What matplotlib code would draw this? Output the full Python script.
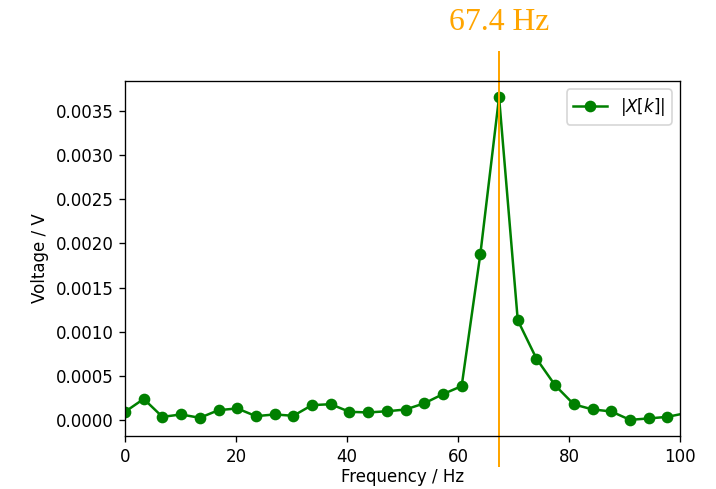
import matplotlib

matplotlib.use("Agg")
import matplotlib.pyplot as plt
import matplotlib.transforms as mtransforms
import numpy as np

# 스펙트럼 데이터 (bin 간격 3.37 Hz)
df = 3.37
magnitude = [
    0.000094, 0.00024, 0.000037, 0.000064, 0.000026, 0.000113, 0.000132,
    0.000045, 0.000064, 0.000049, 0.00017, 0.00018, 0.000094, 0.000087,
    0.0001, 0.00012, 0.00019, 0.000294, 0.000385, 0.00188, 0.003655,
    0.00113, 0.000695, 0.000393, 0.000178, 0.000121, 0.000098, 0.000003,
    0.000019, 0.000037, 0.00008,
]
freqs = np.arange(len(magnitude)) * df
peak_freq = 67.4
peak_label = "67.4 Hz"

fig = plt.figure(figsize=(716 / 120, 489 / 120), dpi=120)
ax = fig.add_axes((0.1746, 0.1084, 0.7751, 0.726))

ax.plot(freqs, magnitude, "o-", color="green", label=r"$|X[k]|$")
ax.set_xlim(0, 100)
ax.set_xlabel("Frequency / Hz", labelpad=1.5)
ax.set_ylabel("Voltage / V")
ax.legend(loc="upper right")

# 피크 주파수 표시 (축 바깥까지 연장)
ax.axvline(peak_freq, ymin=-0.085, ymax=1.081, color="orange", lw=1.2, clip_on=False)
trans = mtransforms.blended_transform_factory(ax.transData, fig.transFigure)
ax.text(
    peak_freq, 1.0 - 22 / 489, peak_label, transform=trans,
    ha="center", va="center", color="orange",
    fontsize=19, family="Liberation Serif",
)

fig.savefig("out.png", dpi=120)
